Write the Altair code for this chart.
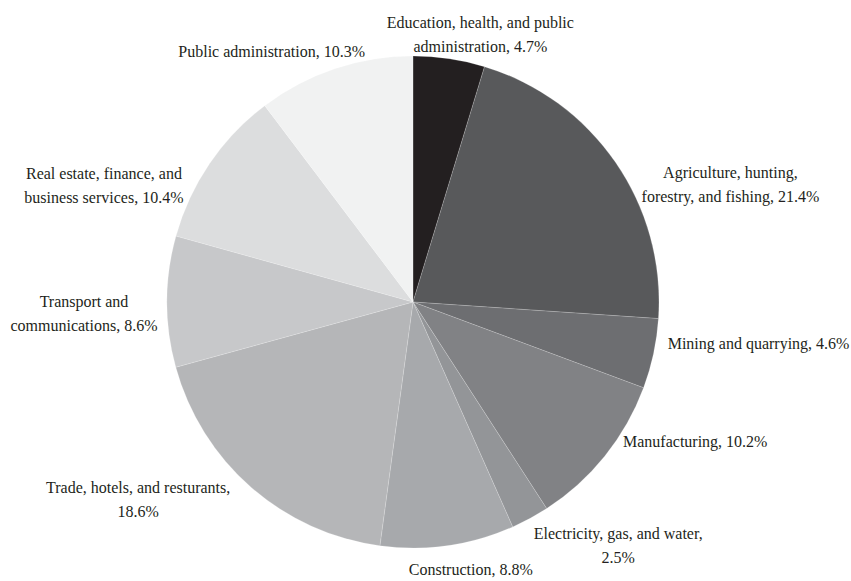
import altair as alt
import pandas as pd

categories = [
    "Education, health, and public administration",
    "Agriculture, hunting, forestry, and fishing",
    "Mining and quarrying",
    "Manufacturing",
    "Electricity, gas, and water",
    "Construction",
    "Trade, hotels, and resturants",
    "Transport and communications",
    "Real estate, finance, and business services",
    "Public administration",
]
shares = [4.7, 21.4, 4.6, 10.2, 2.5, 8.8, 18.6, 8.6, 10.4, 10.3]
line1 = [
    "Education, health, and public",
    "Agriculture, hunting,",
    "Mining and quarrying, 4.6%",
    "Manufacturing, 10.2%",
    "Electricity, gas, and water,",
    "Construction, 8.8%",
    "Trade, hotels, and resturants,",
    "Transport and",
    "Real estate, finance, and",
    "Public administration, 10.3%",
]
line2 = [
    "administration, 4.7%",
    "forestry, and fishing, 21.4%",
    "",
    "",
    "2.5%",
    "",
    "18.6%",
    "communications, 8.6%",
    "business services, 10.4%",
    "",
]
colors = ["#231f20", "#58595b", "#6d6e71", "#818285", "#939598",
          "#a7a9ac", "#b5b6b8", "#c7c8ca", "#dcddde", "#f1f2f2"]

CX, CY, R = 413, 302, 246
RL = R + 14
CW = 6.9
LH = 24
SPREAD = 0.14  # labels drift toward the left/right sides

df = pd.DataFrame({
    "category": categories,
    "share": shares,
    "line1": line1,
    "line2": line2,
    "order": list(range(len(categories))),
})
df["label"] = [a + ("\n" + b if b else "") for a, b in zip(line1, line2)]

base = alt.Chart(df)

pie = base.mark_arc(outerRadius=R, stroke="#ffffff", strokeWidth=0.3, strokeOpacity=0.6).encode(
    theta=alt.Theta("share:Q", stack=True),
    color=alt.Color("category:N", scale=alt.Scale(domain=categories, range=colors), legend=None),
    order=alt.Order("order:Q"),
    x=alt.value(CX),
    y=alt.value(CY),
)

labels = (
    base.transform_joinaggregate(total="sum(share)")
    .transform_window(cum="sum(share)", sort=[alt.SortField("order")], frame=[None, 0])
    .transform_calculate(m="2*PI*(datum.cum - datum.share/2)/datum.total")
    .transform_calculate(a=f"datum.m + {SPREAD}*sin(2*datum.m)")
    .transform_calculate(n="length(datum.line2) > 0 ? 2 : 1")
    .transform_calculate(w=f"{CW}*max(length(datum.line1), length(datum.line2))")
    .transform_calculate(lx=f"{CX} + {RL}*sin(datum.a) + sin(datum.a)*datum.w/2")
    .transform_calculate(ly=f"{CY} - {RL}*cos(datum.a) - cos(datum.a)*datum.n*{LH}/2")
    .mark_text(font="Liberation Serif, Times New Roman, serif", fontSize=16, color="#231f20",
               align="center", baseline="middle", lineBreak="\n", lineHeight=24)
    .encode(
        x=alt.X("lx:Q", scale=None),
        y=alt.Y("ly:Q", scale=None),
        text="label:N",
    )
)

chart = (
    alt.layer(pie, labels)
    .properties(width=851, height=581, autosize=alt.AutoSizeParams(type="none"), padding=0)
    .configure_view(stroke=None)
)

chart.save("out.html", embed_options={"renderer": "svg", "actions": False})
